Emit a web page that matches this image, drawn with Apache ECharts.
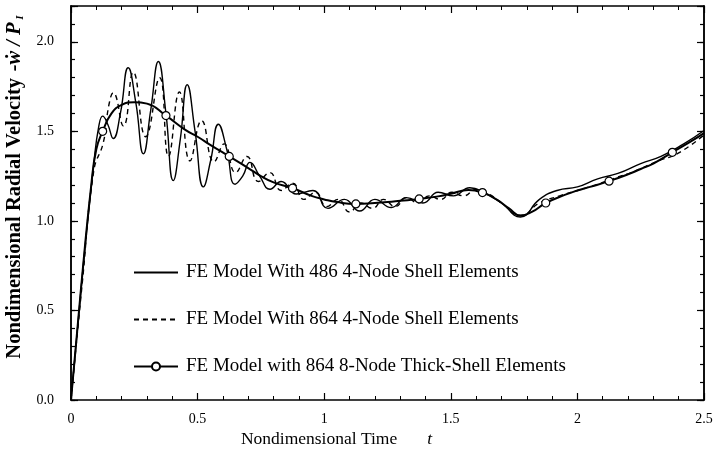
<!DOCTYPE html>
<html>
<head>
<meta charset="utf-8">
<script src="https://cdn.jsdelivr.net/npm/echarts@6/dist/echarts.min.js"></script>
<style>
  html, body { margin: 0; padding: 0; background: #fff; }
  #chart { width: 717px; height: 452px; }
</style>
</head>
<body>
<div id="chart"></div>
<script>
// series names
const names = [
  'FE Model With 486 4-Node Shell Elements',
  'FE Model With 864 4-Node Shell Elements',
  'FE Model with 864 8-Node Thick-Shell Elements'
];

// 486 4-node shell (solid, strong oscillation)
const solidT = [0, 0.045, 0.09, 0.11, 0.125, 0.145, 0.167, 0.195, 0.226, 0.256, 0.286, 0.315, 0.345, 0.375, 0.404, 0.432, 0.459, 0.49, 0.523, 0.552, 0.582, 0.615, 0.648, 0.678, 0.707, 0.745, 0.786, 0.83, 0.89, 0.955, 1.015, 1.08, 1.14, 1.2, 1.265, 1.325, 1.39, 1.45, 1.51, 1.575, 1.63, 1.7, 1.775, 1.85, 1.92, 2.0, 2.08, 2.16, 2.25, 2.33, 2.42, 2.5];
const solidV = [0, 0.7, 1.32, 1.53, 1.585, 1.54, 1.46, 1.6, 1.855, 1.66, 1.375, 1.62, 1.89, 1.6, 1.225, 1.46, 1.76, 1.5, 1.19, 1.34, 1.54, 1.4, 1.205, 1.25, 1.327, 1.25, 1.177, 1.22, 1.15, 1.17, 1.07, 1.12, 1.055, 1.12, 1.075, 1.13, 1.10, 1.16, 1.14, 1.185, 1.16, 1.1, 1.022, 1.12, 1.17, 1.19, 1.235, 1.265, 1.32, 1.36, 1.43, 1.505];

// 864 4-node shell (dashed)
const dashT = [0, 0.045, 0.09, 0.128, 0.15, 0.167, 0.207, 0.246, 0.295, 0.35, 0.385, 0.428, 0.47, 0.516, 0.565, 0.605, 0.65, 0.695, 0.74, 0.785, 0.83, 0.875, 0.92, 0.965, 1.01, 1.055, 1.1, 1.145, 1.19, 1.235, 1.28, 1.325, 1.37, 1.415, 1.46, 1.505, 1.55, 1.6, 1.65, 1.7, 1.775, 1.85, 1.93, 2.0, 2.07, 2.15, 2.23, 2.31, 2.4, 2.5];
const dashV = [0, 0.66, 1.28, 1.44, 1.65, 1.715, 1.53, 1.83, 1.47, 1.8, 1.36, 1.72, 1.335, 1.56, 1.33, 1.43, 1.27, 1.36, 1.22, 1.27, 1.17, 1.21, 1.12, 1.16, 1.08, 1.12, 1.05, 1.1, 1.07, 1.12, 1.08, 1.13, 1.1, 1.14, 1.12, 1.16, 1.14, 1.175, 1.15, 1.1, 1.03, 1.1, 1.14, 1.17, 1.2, 1.24, 1.28, 1.33, 1.38, 1.48];

// 864 8-node thick shell (smooth, circles)
const thickT = [0, 0.04, 0.08, 0.1, 0.125, 0.16, 0.2, 0.25, 0.3, 0.375, 0.45, 0.5, 0.55, 0.625, 0.7, 0.75, 0.8, 0.875, 0.95, 1.0, 1.05, 1.125, 1.2, 1.25, 1.3, 1.375, 1.45, 1.5, 1.57, 1.625, 1.68, 1.73, 1.775, 1.82, 1.875, 1.95, 2.0, 2.05, 2.125, 2.2, 2.25, 2.3, 2.375, 2.45, 2.5];
const thickV = [0, 0.63, 1.2, 1.4, 1.50, 1.6, 1.648, 1.663, 1.655, 1.588, 1.51, 1.47, 1.425, 1.36, 1.295, 1.25, 1.215, 1.183, 1.14, 1.12, 1.105, 1.095, 1.1, 1.105, 1.112, 1.123, 1.137, 1.152, 1.172, 1.158, 1.12, 1.07, 1.03, 1.05, 1.10, 1.145, 1.17, 1.19, 1.222, 1.26, 1.29, 1.32, 1.383, 1.445, 1.49];
const markerT = [0.125, 0.375, 0.625, 0.875, 1.125, 1.375, 1.625, 1.875, 2.125, 2.375];

const FONT = 'Liberation Serif';
const black = '#000';

const pairs = (ts, vs) => ts.map((t, i) => [t, vs[i]]);
const thickData = thickT.map((t, i) =>
  markerT.includes(t) ? [t, thickV[i]] : { value: [t, thickV[i]], symbol: 'none' });

function xAx(pos, main) {
  return {
    type: 'value', position: pos, min: 0, max: 2.5, interval: 0.5,
    axisLine: { onZero: false, lineStyle: { color: black, width: 1.5 } },
    axisTick: { inside: true, length: 7, lineStyle: { color: black, width: 1.2 } },
    minorTick: { show: true, splitNumber: 5, length: 4, lineStyle: { color: black, width: 1 } },
    splitLine: { show: false },
    axisLabel: { show: main, fontFamily: FONT, fontSize: 14, color: black, margin: 12 },
    name: main ? '{a|Nondimensional Time}         {b|t}' : '',
    nameLocation: 'middle', nameGap: 27,
    nameTextStyle: {
      padding: [0, 102, 0, 0],
      rich: {
        a: { fontFamily: FONT, fontSize: 17.5, color: black },
        b: { fontFamily: FONT, fontSize: 17.5, color: black, fontStyle: 'italic' }
      }
    }
  };
}

function yAx(pos, step, len, main) {
  return {
    type: 'value', position: pos, min: 0, max: 2.2, interval: step,
    axisLine: { onZero: false, lineStyle: { color: black, width: 1.5 } },
    axisTick: { inside: true, length: len, lineStyle: { color: black, width: 1.2 } },
    splitLine: { show: false },
    axisLabel: {
      show: main, fontFamily: FONT, fontSize: 14, color: black, margin: 17,
      formatter: v => (Math.abs(v * 2 - Math.round(v * 2)) < 1e-6 ? v.toFixed(1) : '')
    },
    name: main ? '{a|Nondimensional Radial Velocity}  {b|-ẇ / P}{c| I}' : '',
    nameLocation: 'middle', nameRotate: 90, nameGap: 38,
    nameTextStyle: {
      padding: [0, 0, 0, 32],
      rich: {
        a: { fontFamily: FONT, fontSize: 20.5, fontWeight: 'bold', color: black },
        b: { fontFamily: FONT, fontSize: 20.5, fontWeight: 'bold', fontStyle: 'italic', color: black },
        c: { fontFamily: FONT, fontSize: 11, fontWeight: 'bold', fontStyle: 'italic', color: black, verticalAlign: 'bottom' }
      }
    }
  };
}

const chart = echarts.init(document.getElementById('chart'));
chart.setOption({
  animation: false,
  backgroundColor: '#fff',
  grid: { left: 71, right: 13, top: 6, bottom: 52, outerBoundsMode: 'none', containLabel: false },
  xAxis: [xAx('bottom', true), xAx('top', false)],
  yAxis: [
    yAx('left', 0.5, 7, true),
    yAx('left', 0.1, 4, false),
    yAx('right', 0.5, 7, false),
    yAx('right', 0.1, 4, false)
  ],
  legend: {
    orient: 'vertical', left: 128, top: 257,
    itemWidth: 44, itemHeight: 10, itemGap: 26,
    textStyle: { fontFamily: FONT, fontSize: 19, color: black, lineHeight: 21, padding: [0, 0, 0, 3] },
    data: names
  },
  series: [
    {
      name: names[0], type: 'line', data: pairs(solidT, solidV),
      smooth: 0.5, symbol: 'none',
      lineStyle: { color: black, width: 1.4 }, itemStyle: { color: 'rgba(0,0,0,0)' }
    },
    {
      name: names[1], type: 'line', data: pairs(dashT, dashV),
      smooth: 0.5, symbol: 'none',
      lineStyle: { color: black, width: 1.4, type: [5, 4] }, itemStyle: { color: 'rgba(0,0,0,0)' }
    },
    {
      name: names[2], type: 'line', data: thickData, z: 5,
      smooth: 0.5, symbol: 'circle', symbolSize: 8, showAllSymbol: true,
      lineStyle: { color: black, width: 2 },
      itemStyle: { color: '#fff', borderColor: black, borderWidth: 1.2 }
    }
  ]
});
</script>
</body>
</html>
